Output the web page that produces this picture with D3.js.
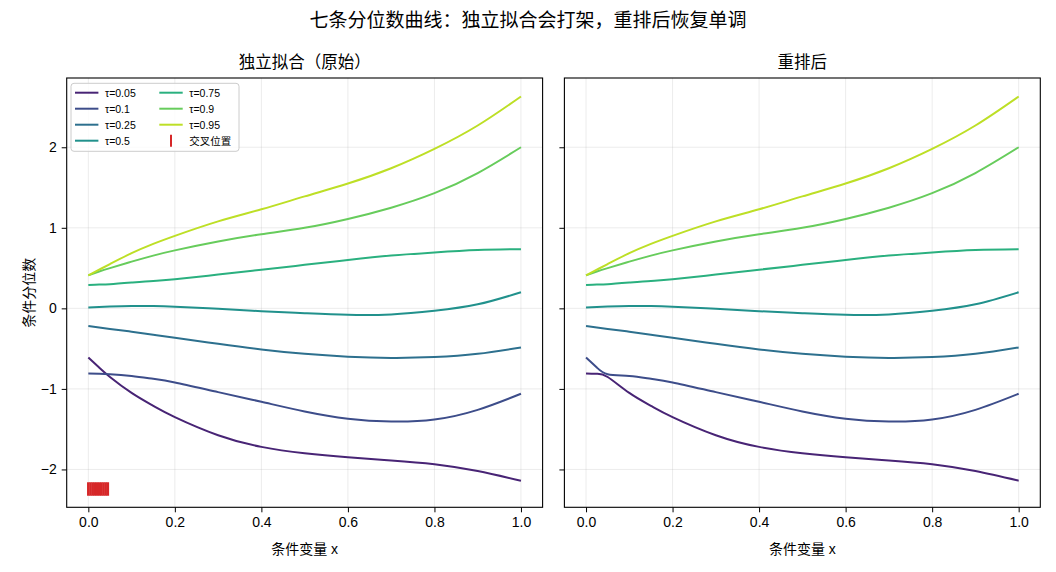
<!DOCTYPE html>
<html>
<head>
<meta charset="utf-8">
<script src="https://cdn.jsdelivr.net/npm/d3@7"></script>
<style>
  html, body { margin: 0; padding: 0; background: #fff; }
  svg { display: block; }
  text { font-family: "Liberation Sans", "Noto Sans CJK SC", sans-serif; fill: #000; }
</style>
</head>
<body>
<svg id="chart" width="1056" height="572"></svg>
<script>
// ---------------- data ----------------
const suptitle = "七条分位数曲线：独立拟合会打架，重排后恢复单调";
const panelTitles = ["独立拟合（原始）", "重排后"];
const xLabel = "条件变量 x";
const yLabel = "条件分位数";
const taus = [0.05, 0.1, 0.25, 0.5, 0.75, 0.9, 0.95];
const xs  = [0, 0.025, 0.05, 0.1, 0.15, 0.2, 0.3, 0.4, 0.5, 0.6, 0.7, 0.8, 0.9, 1.0];
const q05 = [-0.61, -0.735, -0.852, -1.05, -1.21, -1.35, -1.575, -1.72, -1.80, -1.85, -1.888, -1.935, -2.02, -2.14];
const q10 = [-0.81, -0.812, -0.817, -0.84, -0.875, -0.92, -1.04, -1.16, -1.28, -1.37, -1.405, -1.38, -1.26, -1.06];
const q25 = [-0.22, -0.237, -0.255, -0.29, -0.327, -0.365, -0.44, -0.51, -0.565, -0.60, -0.615, -0.605, -0.565, -0.485];
const q50 = [0.01, 0.017, 0.023, 0.03, 0.028, 0.02, -0.005, -0.035, -0.06, -0.08, -0.075, -0.03, 0.05, 0.20];
const q75 = [0.29, 0.295, 0.30, 0.32, 0.34, 0.36, 0.42, 0.48, 0.54, 0.60, 0.655, 0.695, 0.725, 0.735];
const q90 = [0.41, 0.457, 0.50, 0.58, 0.655, 0.72, 0.83, 0.92, 1.00, 1.11, 1.25, 1.43, 1.68, 2.00];
const q95 = [0.41, 0.48, 0.55, 0.685, 0.80, 0.90, 1.08, 1.23, 1.39, 1.55, 1.74, 1.98, 2.27, 2.63];
const crossX = [0, 0.005, 0.01, 0.015, 0.02, 0.025, 0.03, 0.035, 0.04, 0.045];
const crossY = -2.243;
const crossLabel = "交叉位置";
const xTicks = [0, 0.2, 0.4, 0.6, 0.8, 1.0];
const yTicks = [-2, -1, 0, 1, 2];

const raw = [q05, q10, q25, q50, q75, q90, q95];
// rearranged: sort values at every x
const sorted = raw.map(() => []);
xs.forEach((_, i) => {
  const col = raw.map(s => s[i]).slice().sort((a, b) => a - b);
  col.forEach((v, k) => sorted[k].push(v));
});

const colors = taus.map((_, i) => d3.interpolateViridis(0.1 + 0.8 * i / (taus.length - 1)));

// ---------------- layout ----------------
const svg = d3.select("#chart");
const plotTop = 78, plotBottom = 507.3;
const panels = [{ left: 66.7, right: 542.6 }, { left: 564.4, right: 1040.3 }];
const yScale = d3.scaleLinear().domain([-2.47, 2.86]).range([plotBottom, plotTop]);
const fmtY = d3.format("d");
const fmtX = d3.format(".1f");

svg.append("text").attr("x", 528).attr("y", 27).attr("text-anchor", "middle")
  .style("font-size", "19px").text(suptitle);

panels.forEach((p, pi) => {
  const x = d3.scaleLinear().domain([-0.05, 1.05]).range([p.left, p.right]);
  const y = yScale;
  const g = svg.append("g");
  const clipId = "clip" + pi;
  svg.append("clipPath").attr("id", clipId).append("rect")
    .attr("x", p.left).attr("y", plotTop).attr("width", p.right - p.left).attr("height", plotBottom - plotTop);

  // grid
  g.selectAll(".gx").data(xTicks).join("line")
    .attr("x1", d => x(d)).attr("x2", d => x(d)).attr("y1", plotTop).attr("y2", plotBottom)
    .attr("stroke", "#b0b0b0").attr("stroke-opacity", 0.3).attr("stroke-width", 0.8);
  g.selectAll(".gy").data(yTicks).join("line")
    .attr("x1", p.left).attr("x2", p.right).attr("y1", d => y(d)).attr("y2", d => y(d))
    .attr("stroke", "#b0b0b0").attr("stroke-opacity", 0.3).attr("stroke-width", 0.8);

  // lines
  const series = pi === 0 ? raw : sorted;
  const line = d3.line().x((d, i) => x(xs[i])).y(d => y(d)).curve(d3.curveNatural);
  const lg = g.append("g").attr("clip-path", `url(#${clipId})`);
  series.forEach((s, k) => {
    lg.append("path").attr("d", line(s)).attr("fill", "none")
      .attr("stroke", colors[k]).attr("stroke-width", 2);
  });

  if (pi === 0) {
    lg.selectAll(".cross").data(crossX).join("line")
      .attr("x1", d => x(d)).attr("x2", d => x(d))
      .attr("y1", y(crossY) - 6.8).attr("y2", y(crossY) + 6.8)
      .attr("stroke", "#d62728").attr("stroke-width", 2.6);
  }

  // axes
  const ax = g.append("g").attr("transform", `translate(0,${plotBottom})`)
    .call(d3.axisBottom(x).tickValues(xTicks).tickFormat(fmtX).tickSizeOuter(0).tickSize(5).tickPadding(5));
  const ay = g.append("g").attr("transform", `translate(${p.left},0)`)
    .call(d3.axisLeft(y).tickValues(yTicks).tickFormat(pi === 0 ? fmtY : () => "").tickSizeOuter(0).tickSize(5).tickPadding(5));
  [ax, ay].forEach(a => {
    a.select(".domain").remove();
    a.selectAll("line").attr("stroke", "#000").attr("stroke-width", 1);
    a.selectAll("text").style("font-size", "14px").attr("fill", "#000")
      .style("font-family", '"Liberation Sans", "Noto Sans CJK SC", sans-serif');
  });

  // frame
  g.append("rect").attr("x", p.left).attr("y", plotTop).attr("width", p.right - p.left).attr("height", plotBottom - plotTop)
    .attr("fill", "none").attr("stroke", "#000").attr("stroke-width", 1.1);

  // titles
  svg.append("text").attr("x", (p.left + p.right) / 2).attr("y", 68).attr("text-anchor", "middle")
    .style("font-size", "16.5px").text(panelTitles[pi]);
  svg.append("text").attr("x", (p.left + p.right) / 2).attr("y", 554).attr("text-anchor", "middle")
    .style("font-size", "14px").text(xLabel);

  // legend
  if (pi === 0) {
    const L = svg.append("g");
    L.append("rect").attr("x", 71).attr("y", 83.3).attr("width", 168).attr("height", 68)
      .attr("rx", 3).attr("fill", "#fff").attr("fill-opacity", 0.8)
      .attr("stroke", "#cccccc").attr("stroke-width", 1);
    const items = taus.map((t, k) => ({ label: "τ=" + t, color: colors[k], type: "line" }));
    items.push({ label: crossLabel, color: "#d62728", type: "mark" });
    items.forEach((it, k) => {
      const col = k < 4 ? 0 : 1;
      const row = k % 4;
      const x0 = col === 0 ? 75 : 159.3;
      const yy = 92.7 + row * 16;
      if (it.type === "line") {
        L.append("line").attr("x1", x0).attr("x2", x0 + 23.4).attr("y1", yy).attr("y2", yy)
          .attr("stroke", it.color).attr("stroke-width", 2);
      } else {
        L.append("line").attr("x1", x0 + 11.7).attr("x2", x0 + 11.7).attr("y1", yy - 6).attr("y2", yy + 6)
          .attr("stroke", it.color).attr("stroke-width", 2);
      }
      L.append("text").attr("x", x0 + 30).attr("y", yy + 3.8).style("font-size", "10.5px").text(it.label);
    });
  }
});

// y label
svg.append("text").attr("transform", `translate(34,${(plotTop + plotBottom) / 2}) rotate(-90)`)
  .attr("text-anchor", "middle").style("font-size", "14px").text(yLabel);
</script>
</body>
</html>
